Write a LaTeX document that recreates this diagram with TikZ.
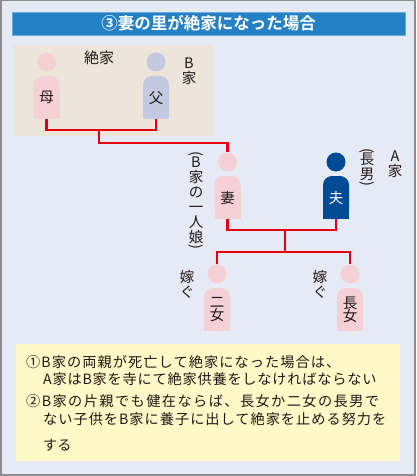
\documentclass[tikz,border=0pt]{standalone}
\usepackage{fontspec}
\usepackage{graphicx}
\setmainfont{Noto Sans CJK JP}
\newfontfamily\titlefont{Noto Sans CJK JP}[BoldFont={* Bold}]
\newfontfamily\notefont{Noto Sans CJK JP}
\definecolor{bgblue}{HTML}{E6EAF5}
\definecolor{framegray}{HTML}{8C8C8C}
\definecolor{titleblue}{HTML}{2481C6}
\definecolor{titleedge}{HTML}{6AAAE0}
\definecolor{beige}{HTML}{EDE5DA}
\definecolor{pinkfig}{HTML}{F5D0D5}
\definecolor{lavfig}{HTML}{C3C9E1}
\definecolor{navyfig}{HTML}{004B96}
\definecolor{linered}{HTML}{E60012}
\definecolor{notebg}{HTML}{FFF9C8}
\definecolor{textdark}{HTML}{231815}
\newcommand\personfig[6]{% name, x, ytop, color, label, textcolor
  \node[circle, fill=#4, minimum size=19pt, inner sep=0pt] (#1head) at (#2,{#3-14}) {};
  \fill[#4, rounded corners=9pt] ({#2-13},{#3}) rectangle ({#2+13},{#3+43});
  \fill[#4] ({#2-13},{#3+15}) rectangle ({#2+13},{#3+43});
  \node[minimum width=26pt, minimum height=43pt, inner sep=0pt, anchor=north,
        text=#6, font=\fontsize{14.5}{16}\selectfont, align=center] (#1) at (#2,{#3}) {#5};
}
\newcommand\vparo{\rotatebox[origin=c]{-90}{(}}
\newcommand\vparc{\rotatebox[origin=c]{-90}{)}}
\newcommand\ls[1]{\addfontfeature{LetterSpace=#1}}
\tikzset{
  redline/.style={draw=linered, line width=2.6pt},
  vlabel/.style={align=center, inner sep=0pt, text=textdark,
    font=\fontsize{14.5}{15}\selectfont},
  notetext/.style={anchor=west, inner sep=0pt, text=textdark,
    font=\notefont\fontsize{14.2}{16}\selectfont}
}
\begin{document}
\begin{tikzpicture}[x=1pt,y=-1pt]
\useasboundingbox (0,0) rectangle (416,476);
% frame and background
\fill[framegray] (0,0) rectangle (416,476);
\fill[bgblue] (1.5,1.2) rectangle (414,474);
% title
\node[draw=titleedge, line width=0.8pt, fill=titleblue, minimum width=393pt, minimum height=23pt,
      inner sep=0pt, text=white, font=\titlefont\bfseries\fontsize{16.5}{18}\selectfont]
      (title) at (208.5,23.5) {③妻の里が絶家になった場合};
% beige panel
\fill[beige] (13,45) rectangle (213,136);
\node[text=textdark, font=\fontsize{15}{16}\selectfont, inner sep=0pt] (zekke) at (99,58) {絶家};
\node[vlabel] (bke) at (189,71) {B\\家};
% persons
\personfig{mother}{46.5}{76}{pinkfig}{母}{textdark}
\personfig{father}{156}{76}{lavfig}{父}{textdark}
\personfig{wife}{227.5}{176}{pinkfig}{妻}{textdark}
\personfig{husband}{336}{176}{navyfig}{夫}{white}
\personfig{second}{217}{288}{pinkfig}{二\\[-3pt]女}{textdark}
\personfig{eldest}{350}{288}{pinkfig}{長\\[-3pt]女}{textdark}
% vertical labels
\node[vlabel, anchor=north] (wifenote) at (196,151) {\vparo\\[-6pt]B\\家\\の\\一\\人\\娘\\[-6pt]\vparc};
\node[vlabel, anchor=north] (husbnote) at (367,148) {\vparo\\[-6pt]長\\男\\[-6pt]\vparc};
\node[vlabel] (ake) at (395,164) {A\\家};
\node[vlabel] (totsugu1) at (187,284) {嫁\\ぐ};
\node[vlabel] (totsugu2) at (320,284) {嫁\\ぐ};
% connectors
\coordinate (pjoin) at (99,130);
\coordinate (cjoin) at (285,230);
\coordinate (djoin) at (285,252);
\draw[redline] (mother.south) |- (pjoin) -| (father.south);
\draw[redline] (pjoin) -- ++(0,13) -| (wifehead.north);
\draw[redline] (wife.south) |- (cjoin) -| (husband.south);
\draw[redline] (cjoin) -- (djoin);
\draw[redline] (secondhead.north) |- (djoin) -| (eldesthead.north);
% note box
\fill[notebg] (16,344) rectangle (399.5,461);
\node[notetext] (n1) at (26,362) {\ls{7.5}①B家の両親が死亡して絶家になった場合は、};
\node[notetext] (n2) at (43,379.5) {\ls{5.5}A家はB家を寺にて絶家供養をしなければならない};
\node[notetext] (n3) at (26,401.5) {\ls{10}②B家の片親でも健在ならば、長女か二女の長男で};
\node[notetext] (n4) at (43,419.5) {\ls{7}ない子供をB家に養子に出して絶家を止める努力を};
\node[notetext] (n5) at (43,445) {する};
\end{tikzpicture}
\end{document}
